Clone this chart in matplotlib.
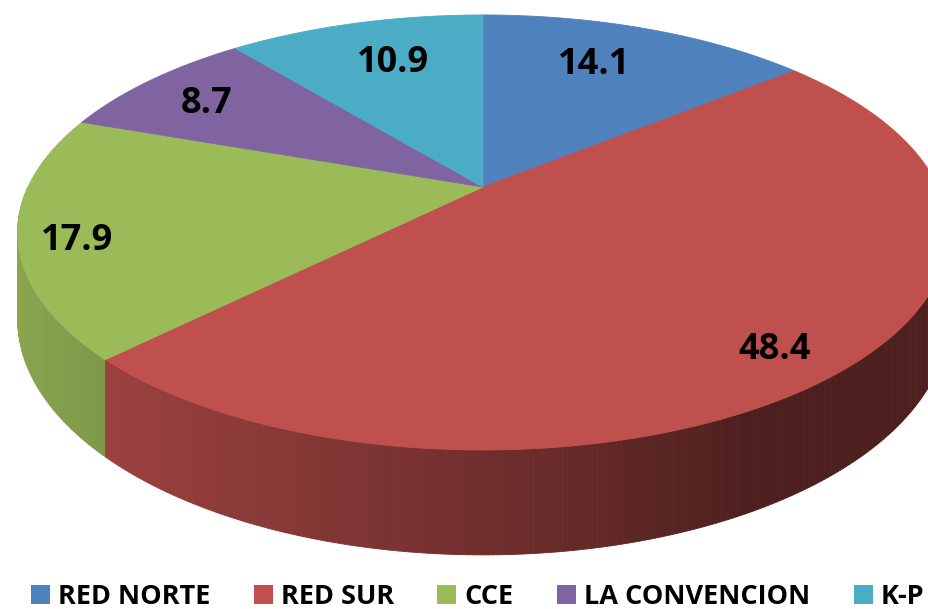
#!/usr/bin/env python3
"""3D-style pie: share by network (Excel look)."""
import numpy as np
import matplotlib
matplotlib.use("Agg")
import matplotlib.pyplot as plt
from matplotlib.collections import PolyCollection
from matplotlib.patches import Polygon, Patch
from matplotlib.colors import to_rgb

# --- data -------------------------------------------------------------
categories = ["RED NORTE", "RED SUR", "CCE", "LA CONVENCION", "K-P"]
values = [14.1, 48.4, 17.9, 8.7, 10.9]
labels = ["14.1", "48.4", "17.9", "8.7", "10.9"]

# --- style ------------------------------------------------------------
COLORS = ["#4F81BD", "#C0504D", "#9BBB59", "#8064A2", "#4BACC6"]
LABEL_R = [0.75, 0.86, 0.88, 0.81, 0.74]    # radial position of each label
LABEL_DA = [3.4, -2.1, 2.2, 0.5, -1.7]      # angular nudge (deg)
LABEL_DY = 4                                # glyph centring fix (px)
FONT = ["Open Sans", "DejaVu Sans"]

W, H = 929, 609
CX, CY = 483, 187        # apex of the pie on screen
R, B = 455, 208          # horizontal / depth radius
PERSP = 0.209            # perspective strength
DEPTH = 83               # thickness of the pie


def project(r, theta):
    """Disk point (radius fraction, angle deg) -> screen pixels."""
    t = np.radians(theta)
    x, y = r * np.cos(t), r * np.sin(t)
    w = 1 + PERSP * y
    return CX + R * x / w, CY - B * y / w, w


def shade(c, f):
    return tuple(min(1, v * f) for v in to_rgb(c))


def side_factor(theta):
    return 0.4 + 0.5 * max(0.0, np.cos(np.radians(0.76 * (theta - 180))))


fig = plt.figure(figsize=(W / 100, H / 100), dpi=100)
ax = fig.add_axes([0, 0, 1, 1])
ax.set_xlim(0, W)
ax.set_ylim(H, 0)
ax.axis("off")

# wedge angles, clockwise from 12 o'clock
fr = np.array(values) / sum(values)
ends = 90 - np.cumsum(fr) * 360
starts = np.concatenate([[90], ends[:-1]])

# side wall (front half only)
quads, qcols = [], []
step = 0.5
for th in np.arange(180, 360, step):
    mid = th + step / 2
    for i, (s, e) in enumerate(zip(starts, ends)):
        lo, hi = e % 360, s % 360
        inside = (lo <= mid < hi) if lo < hi else (mid >= lo or mid < hi)
        if inside:
            break
    x0, y0, w0 = project(1, th)
    x1, y1, w1 = project(1, th + step)
    quads.append([(x0, y0), (x1, y1), (x1, y1 + DEPTH / w1), (x0, y0 + DEPTH / w0)])
    qcols.append(shade(COLORS[i], side_factor(mid)))
ax.add_collection(PolyCollection(quads, facecolors=qcols, edgecolors=qcols,
                                 linewidths=0.6, zorder=1))

# top face
for i, (s, e) in enumerate(zip(starts, ends)):
    th = np.linspace(s, e, 200)
    xs, ys, _ = project(1, th)
    pts = [(CX, CY)] + list(zip(xs, ys))
    ax.add_patch(Polygon(pts, closed=True, facecolor=COLORS[i],
                         edgecolor=COLORS[i], linewidth=0.6, zorder=2))

# data labels
for i, (s, e) in enumerate(zip(starts, ends)):
    lx, ly, _ = project(LABEL_R[i], (s + e) / 2 + LABEL_DA[i])
    ax.text(lx, ly + LABEL_DY, labels[i], ha="center", va="center", fontsize=26,
            fontweight="bold", family=FONT, color="black", zorder=3)

handles = [Patch(facecolor=c, edgecolor="none") for c in COLORS]
fig.legend(handles, categories, ncol=5, loc="lower left",
           bbox_to_anchor=(31 / W, -1 / H), frameon=False,
           prop={"family": FONT, "weight": "bold", "size": 19.5},
           handlelength=0.7, handleheight=0.7, handletextpad=0.3,
           columnspacing=1.6, borderpad=0, borderaxespad=0)

fig.savefig("out.png", dpi=100, facecolor="white")
